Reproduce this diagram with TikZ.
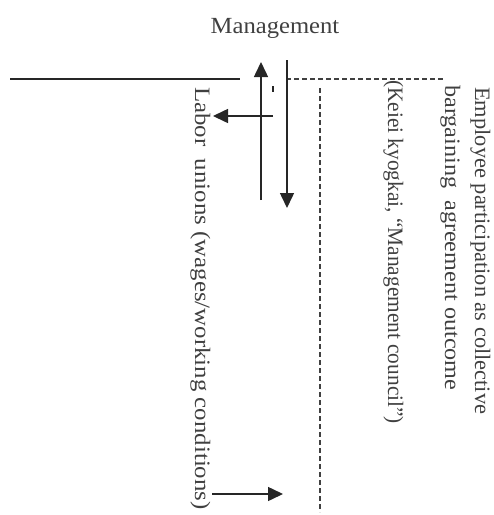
\documentclass[tikz,border=0pt]{standalone}
\usepackage{fontspec}
\setmainfont{Liberation Serif}
\usetikzlibrary{arrows.meta}
\begin{document}
\begin{tikzpicture}[x=1pt,y=-1pt,
  ln/.style={line width=1.5pt,black!85},
  dl/.style={line width=1.3pt,black!75,dash pattern=on 5pt off 3pt},
  arr/.style={ln,-{Triangle[length=15pt,width=14pt]}},
  lbl/.style={inner sep=0pt,text=black!75,font=\fontsize{22}{26}\selectfont},
  vlbl/.style={lbl,rotate=-90,anchor=base west}]
\useasboundingbox (0,0) rectangle (494,515);
\node[lbl,anchor=base] (mgmt) at (275,33) {\scalebox{1.12}[1.05]{Management}};
% coordinates
\coordinate (hl0) at (10,79);
\coordinate (hl1) at (240,79);
\coordinate (hd0) at (286,79);
\coordinate (hd1) at (443,79);
\coordinate (vs0) at (287,60);
\coordinate (vs1) at (287,208);
\coordinate (ua0) at (261,200);
\coordinate (ua1) at (261,62);
\coordinate (la0) at (273,116);
\coordinate (la1) at (213,116);
\coordinate (tk0) at (273,86);
\coordinate (tk1) at (273,92);
\coordinate (vd0) at (320,88);
\coordinate (vd1) at (320,512);
\coordinate (ra0) at (212,494);
\coordinate (ra1) at (283,494);
\draw[ln] (hl0) -- (hl1);
\draw[dl] (hd0) -- (hd1);
\draw[arr] (vs0) -- (vs1);
\draw[arr] (ua0) -- (ua1);
\draw[arr] (la0) -- (la1);
\draw[ln] (tk0) -- (tk1);
\draw[dl] (vd0) -- (vd1);
\draw[arr] (ra0) -- (ra1);
% rotated labels
\node[vlbl] (labor) at (195,87) {\scalebox{1.13}[1]{Labor\ \ unions (wages/working conditions)}};
\node[vlbl] (keiei) at (388,80) {\scalebox{0.97}[1]{(Keiei kyogkai, ``Management council'')}};
\node[vlbl] (barg) at (445,85) {\scalebox{1.1}[1]{bargaining\ \ agreement outcome}};
\node[vlbl] (emp) at (475,87) {\scalebox{1.02}[1]{Employee participation as collective}};
\end{tikzpicture}
\end{document}
